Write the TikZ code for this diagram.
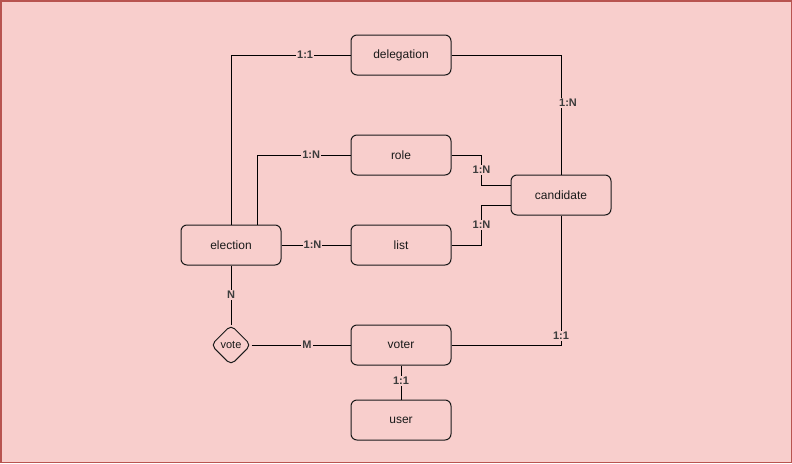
\documentclass[tikz,border=0pt]{standalone}
\usepackage{fontspec}
\setmainfont{Liberation Sans}
\usetikzlibrary{shapes.geometric}

\definecolor{bgpink}{HTML}{F8CECC}
\definecolor{bgred}{HTML}{B85450}
\definecolor{ink}{HTML}{1A1A1A}

\tikzset{
  entity/.style={draw=ink, fill=bgpink, rounded corners=6pt, line width=1pt,
    minimum width=100pt, minimum height=40pt, inner sep=0pt,
    font=\fontsize{12}{14}\selectfont, text=ink},
  relation/.style={draw=ink, fill=bgpink, diamond, aspect=1, rounded corners=5pt,
    line width=1pt, minimum width=40pt, minimum height=40pt, inner sep=0pt,
    font=\fontsize{11}{13}\selectfont, text=ink},
  link/.style={draw=black, line width=1pt},
  card/.style={fill=bgpink, inner sep=1pt, text=ink!85,
    font=\fontsize{11}{13}\selectfont\bfseries},
}

\begin{document}
\begin{tikzpicture}[x=1pt,y=-1pt]
  \useasboundingbox (0,0) rectangle (792,463);
  \fill[bgpink] (0,0) rectangle (792,463);
  \draw[bgred, line width=1.5pt] (0.75,0.75) rectangle (791.25,462.25); % rand

  % entidades
  \node[entity] (delegation) at (401,55) {delegation};
  \node[entity] (role) at (401,155) {role};
  \node[entity] (candidate) at (561,195) {candidate};
  \node[entity] (election) at (231,245) {election};
  \node[entity] (list) at (401,245) {list};
  \node[relation] (vote) at (231,345) {vote};
  \node[entity] (voter) at (401,345) {voter};
  \node[entity] (user) at (401,420) {user};

  % ligacoes
  \draw[link] (election.north) |- node[card,pos=0.81] {1:1} (delegation.west);
  \draw[link] ([xshift=26pt]election.north) |- node[card,pos=0.79] {1:N} (role.west);
  \draw[link] (delegation.east) -| node[card,pos=0.70,xshift=7pt] {1:N} (candidate.north);
  \draw[link] (role.east) -- ++(30,0) |- node[card,pos=0.25] {1:N} ([yshift=10pt]candidate.west);
  \draw[link] (list.east) -- ++(30,0) |- node[card,pos=0.25] {1:N} ([yshift=-10pt]candidate.west);
  \draw[link] (election.east) -- node[card,pos=0.45] {1:N} (list.west);
  \draw[link] (election.south) -- node[card] {N} (vote.north);
  \draw[link] (vote.east) -- node[card,pos=0.56] {M} (voter.west);
  \draw[link] (voter.east) -| node[card,pos=0.535] {1:1} (candidate.south);
  \draw[link] (voter.south) -- node[card,pos=0.46] {1:1} (user.north);
\end{tikzpicture}
\end{document}
